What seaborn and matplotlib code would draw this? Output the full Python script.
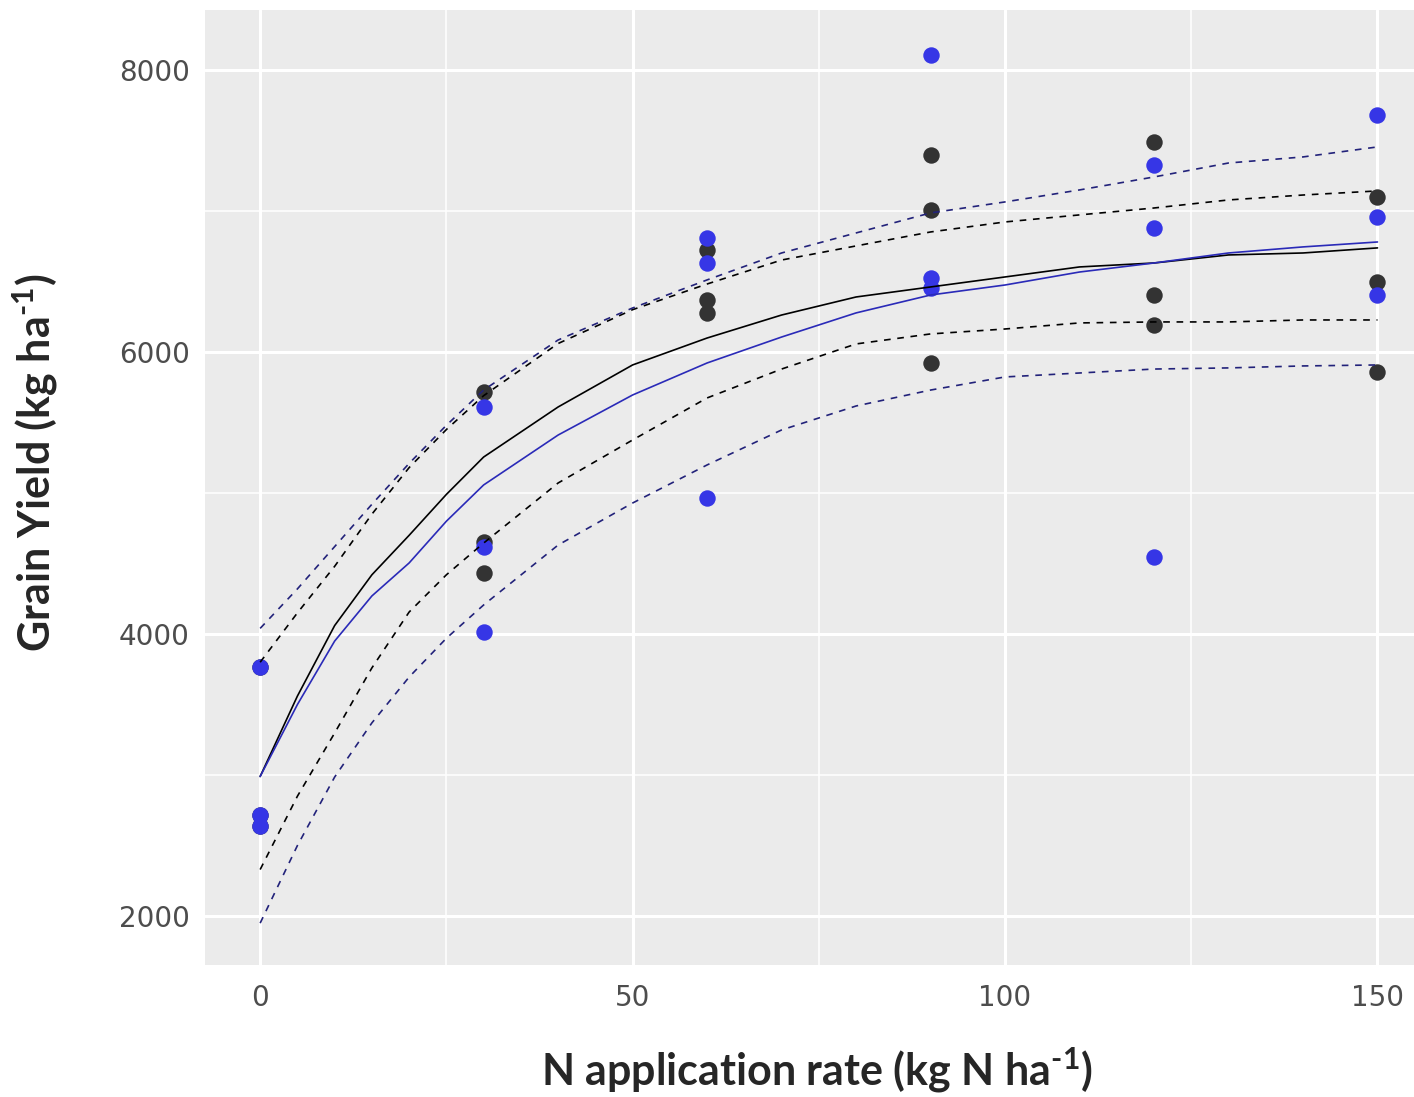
# Rendimento de grãos vs dose de N
import numpy as np
import pandas as pd
import matplotlib
matplotlib.use('Agg')
import matplotlib.pyplot as plt
import seaborn as sns

# Dados observados
dose_pontos = [0, 0, 0, 30, 30, 30, 60, 60, 60, 90, 90, 90, 120, 120, 120, 150, 150, 150]
preto_obs = [3766, 2716, 2638, 5716, 4650, 4433, 6723, 6369, 6277,
             7397, 7007, 5922, 7489, 6404, 6191, 7099, 6496, 5858]
azul_obs = [3766, 2716, 2638, 5610, 4620, 4014, 6809, 6631, 4965,
            8106, 6525, 6454, 7326, 6879, 4546, 7681, 6957, 6404]

# Curvas ajustadas
dose_curva = [0, 5, 10, 15, 20, 25, 30, 40, 50, 60, 70, 80, 90, 100, 110, 120, 130, 140, 150]
preto_ajuste = [2990, 3560, 4060, 4420, 4700, 4990, 5255, 5610, 5908, 6099, 6262, 6390, 6461,
                6532, 6603, 6631, 6688, 6702, 6738]
preto_sup = [3800, 4150, 4480, 4850, 5180, 5450, 5690, 6060, 6300, 6482, 6652, 6752, 6851,
             6922, 6972, 7021, 7078, 7113, 7142]
preto_inf = [2330, 2850, 3298, 3760, 4156, 4420, 4645, 5071, 5376, 5674, 5879, 6057, 6128,
             6163, 6206, 6213, 6213, 6227, 6227]
azul_ajuste = [2990, 3500, 3950, 4270, 4504, 4800, 5057, 5411, 5695, 5922, 6106, 6277, 6404,
               6475, 6567, 6631, 6702, 6745, 6780]
azul_sup = [4040, 4320, 4620, 4920, 5210, 5480, 5730, 6085, 6312, 6511, 6702, 6844, 6986,
            7064, 7149, 7241, 7340, 7383, 7454]
azul_inf = [1950, 2500, 2986, 3370, 3695, 3970, 4206, 4631, 4929, 5199, 5447, 5617, 5730,
            5823, 5851, 5879, 5887, 5901, 5908]

pontos = pd.DataFrame({
    'dose': dose_pontos * 2,
    'rend': preto_obs + azul_obs,
    'grupo': ['preto'] * len(preto_obs) + ['azul'] * len(azul_obs),
})

cor_preto = '#333333'
cor_azul = '#3636e6'
cor_linha_azul = '#2a2ab8'
cor_trac_azul = '#22227a'

sns.set_style('darkgrid', {'axes.facecolor': '#EBEBEB', 'grid.color': 'white'})
plt.rcParams['mathtext.fontset'] = 'custom'
plt.rcParams['mathtext.rm'] = 'Lato:bold'
plt.rcParams['mathtext.bf'] = 'Lato:bold'

fig = plt.figure(figsize=(14.14, 10.97), dpi=100)
ax = fig.add_axes([0.145, 0.1203, 0.855, 0.8706])

sns.scatterplot(data=pontos[pontos['grupo'] == 'preto'], x='dose', y='rend', color=cor_preto,
                s=140, linewidth=0, ax=ax, zorder=3)
sns.scatterplot(data=pontos[pontos['grupo'] == 'azul'], x='dose', y='rend', color=cor_azul,
                s=140, linewidth=0, ax=ax, zorder=3)

sns.lineplot(x=dose_curva, y=preto_ajuste, color='black', linewidth=1.2, ax=ax, zorder=4)
sns.lineplot(x=dose_curva, y=azul_ajuste, color=cor_linha_azul, linewidth=1.2, ax=ax, zorder=4)
for serie, cor in [(preto_sup, 'black'), (preto_inf, 'black'),
                   (azul_sup, cor_trac_azul), (azul_inf, cor_trac_azul)]:
    sns.lineplot(x=dose_curva, y=serie, color=cor, linewidth=1.2, ax=ax, zorder=4,
                 linestyle=(0, (4, 4)))

ax.set_xlim(-7.4, 154.9)
ax.set_ylim(1653, 8425)
ax.set_xticks([0, 50, 100, 150])
ax.set_yticks([2000, 4000, 6000, 8000])
ax.set_xticks([25, 75, 125], minor=True)
ax.set_yticks([3000, 5000, 7000], minor=True)
ax.grid(which='major', color='white', linewidth=2.2)
ax.grid(which='minor', color='white', linewidth=1.1)
for lado in ax.spines.values():
    lado.set_visible(False)
ax.tick_params(axis='both', which='major', length=6, width=1.2, color='#4D4D4D',
               labelcolor='#4D4D4D', labelsize=20, direction='out')
ax.tick_params(axis='both', which='minor', length=0)
ax.tick_params(axis='x', pad=8)
ax.tick_params(axis='y', pad=5)

ax.set_xlabel('')
ax.set_ylabel('')
fig.text(0.5775, 0.024, r'N application rate (kg N ha$^{\text{-1}}$)', ha='center', va='center',
         fontsize=31, fontweight='bold', family='Lato')
fig.text(0.025, 0.578, r'Grain Yield (kg ha$^{\text{-1}}$)', ha='center', va='center',
         rotation=90, fontsize=31, fontweight='bold', family='Lato')

plt.savefig('out.png', dpi=100)
plt.close()
